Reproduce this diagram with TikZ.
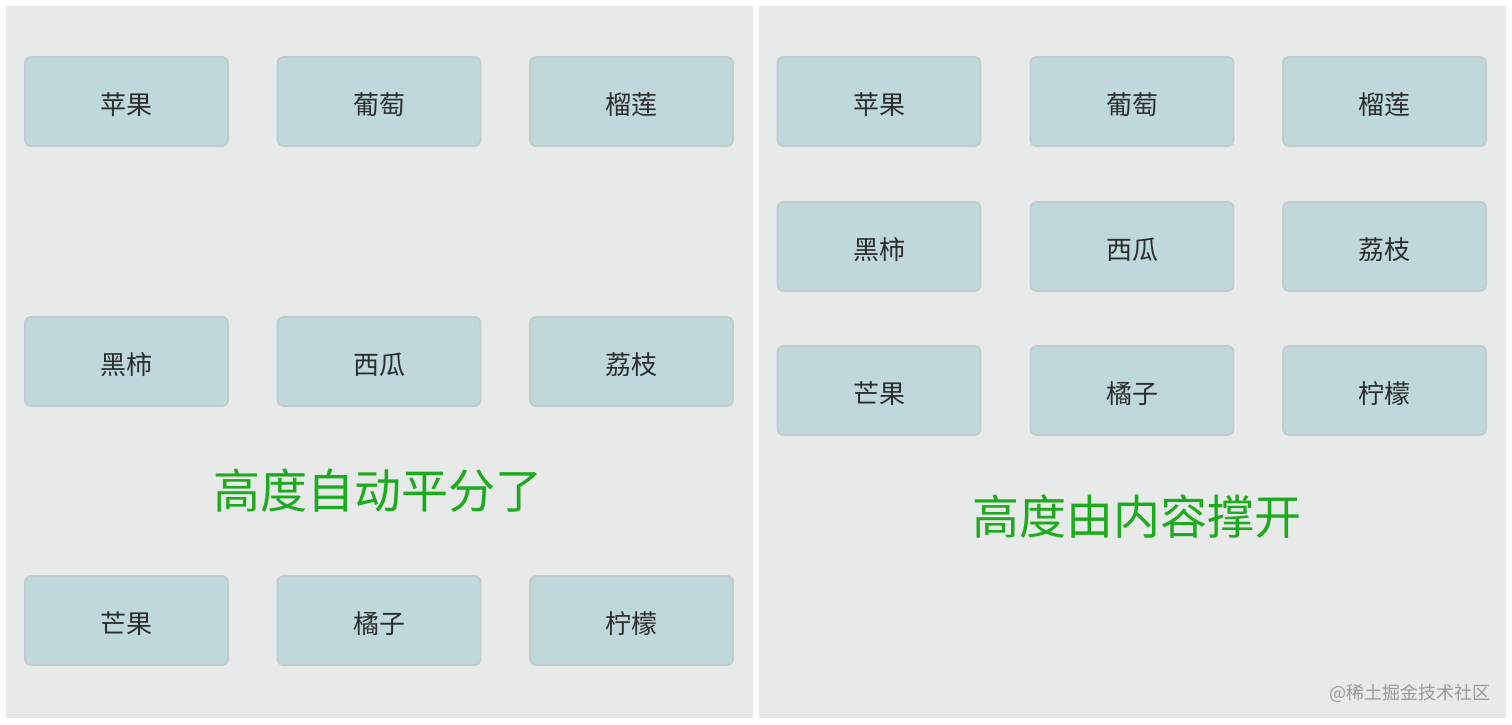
\documentclass[tikz,border=0pt]{standalone}
\usepackage{fontspec}
\newfontfamily\cjk{Noto Sans CJK SC}
\definecolor{panelbg}{RGB}{232,233,233}
\definecolor{boxfill}{RGB}{191,216,220}
\definecolor{boxline}{RGB}{196,201,202}
\definecolor{labeltext}{RGB}{45,45,45}
\definecolor{titlegreen}{RGB}{30,170,30}
\definecolor{marktext}{RGB}{155,155,155}

\begin{document}
\begin{tikzpicture}[x=1pt,y=-1pt,
    fruit/.style={draw=boxline, line width=1.8pt, fill=boxfill, rounded corners=6pt,
        minimum width=203pt, minimum height=89pt, inner sep=0pt,
        text height=26pt, text depth=0pt,
        font=\cjk\fontsize{26}{26}\selectfont, text=labeltext},
    caption/.style={font=\cjk\fontsize{47}{47}\selectfont, text=titlegreen}]
    % Fond et cadre
    \useasboundingbox (0,0) rectangle (1512,725);
    \fill[white] (0,0) rectangle (1512,725);
    \fill[panelbg] (6,6) rectangle (753,718); % panneau gauche
    \fill[panelbg] (759,6) rectangle (1506,718); % panneau droit

    % Boites du panneau gauche (hauteur partagee)
    \foreach \name/\x/\y/\lab in {l1/126.5/101.5/苹果, l2/379/101.5/葡萄, l3/631.5/101.5/榴莲,
        l4/126.5/361.5/黑柿, l5/379/361.5/西瓜, l6/631.5/361.5/荔枝,
        l7/126.5/620.5/芒果, l8/379/620.5/橘子, l9/631.5/620.5/柠檬}
        \node[fruit] (\name) at (\x,\y) {\lab};

    % Boites du panneau droit (hauteur selon le contenu)
    \foreach \name/\x/\y/\lab in {r1/879/101.5/苹果, r2/1132/101.5/葡萄, r3/1384.5/101.5/榴莲,
        r4/879/246.5/黑柿, r5/1132/246.5/西瓜, r6/1384.5/246.5/荔枝,
        r7/879/390.5/芒果, r8/1132/390.5/橘子, r9/1384.5/390.5/柠檬}
        \node[fruit] (\name) at (\x,\y) {\lab};

    % Legendes
    \node[caption] (leftcap) at (378,491) {高度自动平分了};
    \node[caption] (rightcap) at (1137,517) {高度由内容撑开};
    \node[font=\cjk\fontsize{18}{18}\selectfont, text=marktext] (mark) at (1410,693) {@稀土掘金技术社区};
\end{tikzpicture}
\end{document}
